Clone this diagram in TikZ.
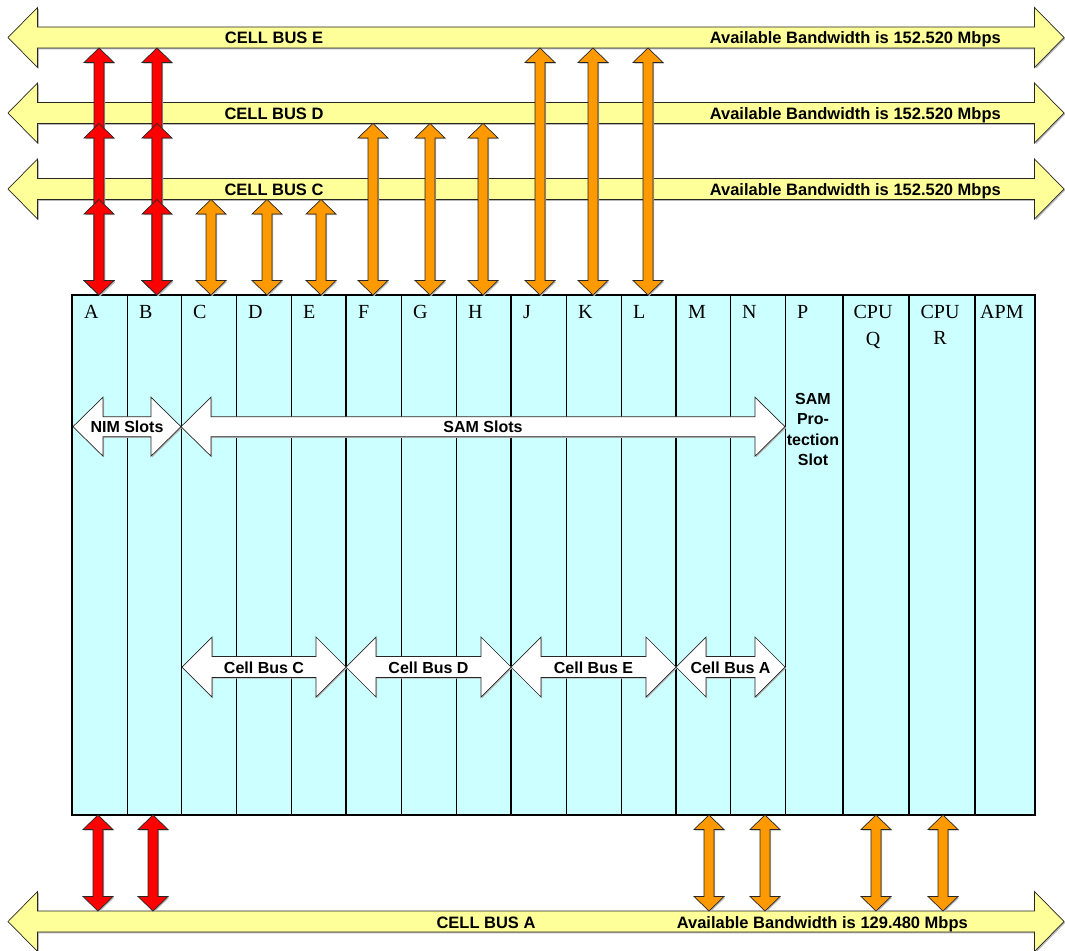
\documentclass[tikz,border=0pt]{standalone}
\usepackage{fontspec}
\setmainfont{Liberation Serif}
\newfontfamily\lsans{Liberation Sans}
\definecolor{busyellow}{RGB}{255,255,153}
\definecolor{slotcyan}{RGB}{204,255,255}
\definecolor{arrred}{RGB}{255,0,0}
\definecolor{arrorange}{RGB}{255,153,0}
% horizontal double arrow: x1 x2 y shafthalf headhalf headlen
\newcommand\HArrPath[6]{(#1,#3) -- ({#1+#6},{#3-#5}) -- ({#1+#6},{#3-#4}) -- ({#2-#6},{#3-#4}) -- ({#2-#6},{#3-#5}) -- (#2,#3) -- ({#2-#6},{#3+#5}) -- ({#2-#6},{#3+#4}) -- ({#1+#6},{#3+#4}) -- ({#1+#6},{#3+#5}) -- cycle}
% vertical double arrow: x y1 y2 shafthalf headhalf headlen
\newcommand\VArrPath[6]{(#1,#2) -- ({#1+#5},{#2+#6}) -- ({#1+#4},{#2+#6}) -- ({#1+#4},{#3-#6}) -- ({#1+#5},{#3-#6}) -- (#1,#3) -- ({#1-#5},{#3-#6}) -- ({#1-#4},{#3-#6}) -- ({#1-#4},{#2+#6}) -- ({#1-#5},{#2+#6}) -- cycle}
\newcommand\BusArr[1]{%
  \fill[gray!55,shift={(1.3,1.3)}] \HArrPath{8}{1064}{#1}{10.5}{30}{29.5};
  \filldraw[fill=busyellow,draw=black!85,line width=0.7pt] \HArrPath{8}{1064}{#1}{10.5}{30}{29.5};}
\newcommand\InArr[5]{% x1 x2 y s h
  \fill[gray!55,shift={(1.2,1.2)}] \HArrPath{#1}{#2}{#3}{#4}{#5}{30};
  \filldraw[fill=white,draw=black!85,line width=0.7pt] \HArrPath{#1}{#2}{#3}{#4}{#5}{30};}
\newcommand\VArr[4]{% x y1 y2 colour
  \fill[gray!55,shift={(1.2,1.2)}] \VArrPath{#1}{#2}{#3}{5}{15}{14.5};
  \filldraw[fill=#4,draw=black!85,line width=0.7pt] \VArrPath{#1}{#2}{#3}{5}{15}{14.5};}
\tikzset{
  bustext/.style={font=\lsans\bfseries\fontsize{16.5}{20}\selectfont,inner sep=0pt},
  intext/.style={font=\lsans\bfseries\fontsize{16}{20.5}\selectfont,inner sep=0pt},
  slotlbl/.style={font=\fontsize{20}{26.5}\selectfont,inner sep=0pt},
  slot/.style={fill=slotcyan,draw=black,line width=0.9pt},
}
\begin{document}
\begin{tikzpicture}[x=1pt,y=-1pt]
\useasboundingbox (0,0) rectangle (1065,950);
% buses
\BusArr{37.5}
\BusArr{113}
\BusArr{189}
\BusArr{921.5}
% chassis
\foreach \a/\b in {72/127,127/181,181/236,236/291,291/346,346/401,401/456,456/511,511/566,566/621,621/676,676/730,730/785,785/843,843/909,909/975,975/1035}
  \draw[slot] (\a,295) rectangle (\b,815);
\foreach \x in {346,511,676,843,909,975}
  \draw[line width=1.6pt] (\x,295) -- (\x,815);
\draw[line width=1.6pt] (72,295) rectangle (1035,815);
% inner arrows
\InArr{73}{181}{426.7}{10}{29.5}
\InArr{181}{785}{426.7}{10}{29.5}
\InArr{182}{346}{667}{10.5}{30}
\InArr{346}{511}{667}{10.5}{30}
\InArr{511}{676}{667}{10.5}{30}
\InArr{676}{785}{667}{10.5}{30}
% top vertical arrows
\foreach \x in {99,157} {
  \VArr{\x}{48}{295}{arrred}
  \VArr{\x}{123.5}{295}{arrred}
  \VArr{\x}{199.5}{295}{arrred}
}
\foreach \x in {211,267,321} {\VArr{\x}{199.5}{295}{arrorange}}
\foreach \x in {373,430,483} {\VArr{\x}{123.5}{295}{arrorange}}
\foreach \x in {540,593,648} {\VArr{\x}{48}{295}{arrorange}}
% bottom vertical arrows
\foreach \x in {98,153} {\VArr{\x}{815}{911}{arrred}}
\foreach \x in {709,765,876,943} {\VArr{\x}{815}{911}{arrorange}}
% bus labels
\node[bustext,anchor=base] (busE) at (274,43.5) {CELL BUS E};
\node[bustext,anchor=base east] (bwE) at (1001,43.5) {Available Bandwidth is 152.520 Mbps};
\node[bustext,anchor=base] (busD) at (274,119) {CELL BUS D};
\node[bustext,anchor=base east] (bwD) at (1001,119) {Available Bandwidth is 152.520 Mbps};
\node[bustext,anchor=base] (busC) at (274,195) {CELL BUS C};
\node[bustext,anchor=base east] (bwC) at (1001,195) {Available Bandwidth is 152.520 Mbps};
\node[bustext,anchor=base] (busA) at (486,928) {CELL BUS A};
\node[bustext,anchor=base east] (bwA) at (968,928) {Available Bandwidth is 129.480 Mbps};
% slot labels
\foreach \l/\x in {A/84,B/139,C/193,D/248,E/303,F/358,G/413,H/468,J/523,K/578,L/633,M/688,N/742,P/797}
  \node[slotlbl,anchor=base west] (lbl\l) at (\x,318.5) {\l};
\node[slotlbl,align=center] (lblQ) at (873,327) {CPU\\Q};
\node[slotlbl,align=center] (lblR) at (940,325) {CPU\\R};
\node[slotlbl,anchor=base west] (lblAPM) at (980,318.5) {APM};
% inner texts
\node[intext,anchor=base] (nim) at (127,432.7) {NIM Slots};
\node[intext,anchor=base] (sam) at (483,432.7) {SAM Slots};
\node[intext,align=center] (prot) at (813,429.3) {SAM\\Pro-\\tection\\Slot};
\node[intext,anchor=base] (cbC) at (264,673) {Cell Bus C};
\node[intext,anchor=base] (cbD) at (428.5,673) {Cell Bus D};
\node[intext,anchor=base] (cbE) at (593.5,673) {Cell Bus E};
\node[intext,anchor=base] (cbA) at (730.5,673) {Cell Bus A};
\end{tikzpicture}
\end{document}
